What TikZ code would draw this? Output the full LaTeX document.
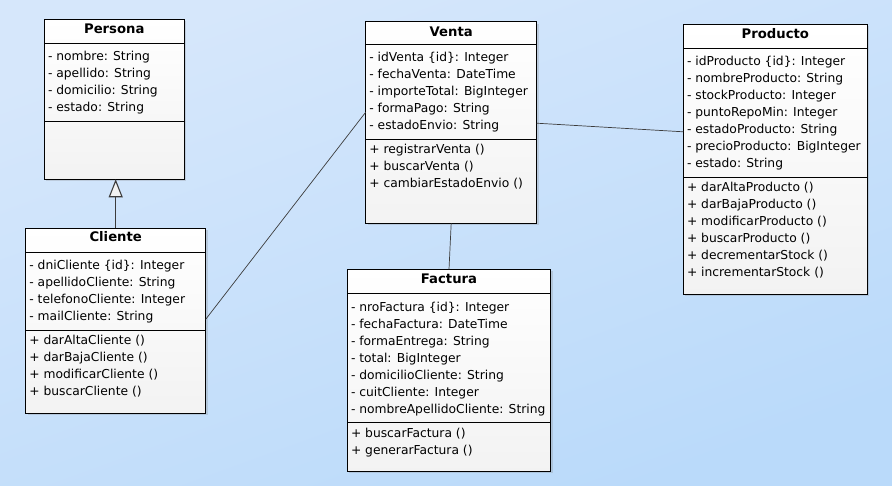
\documentclass[tikz,border=0pt]{standalone}
\usepackage{fontspec}
\setmainfont{DejaVu Sans}
\usetikzlibrary{calc,arrows.meta,shadows}

\definecolor{bgtop}{RGB}{214,231,251}
\definecolor{bgbottom}{RGB}{186,218,250}
\definecolor{linegray}{RGB}{60,60,60}

% member lines of a class: node name, part, offset of first baseline, list
\newcommand{\memberlist}[4]{%
  \foreach \txt [count=\i] in {#4}
    \node[member] (#1-#2\i) at ($(#1.north west)+(3.5,#3-17+17*\i)$) {\txt};}

\begin{document}
\begin{tikzpicture}[x=1pt, y=-1pt,
    classbox/.style={rectangle, draw=black, line width=1pt, inner sep=0pt, outer sep=0pt,
      top color=white, bottom color=gray!10,
      drop shadow={opacity=0.25, shadow xshift=2pt, shadow yshift=-2pt}},
    classname/.style={anchor=base, inner sep=0pt, font=\fontsize{13.2}{15}\selectfont\bfseries},
    member/.style={anchor=base west, inner sep=0pt, font=\fontsize{12.3}{14}\selectfont},
    sepline/.style={line width=0.8pt},
    assoc/.style={draw=linegray, line width=0.7pt},
    gen/.style={draw=linegray, line width=1.1pt,
      -{Triangle[open, length=18pt, width=14pt, fill=gray!10]}}]

    \fill[top color=bgtop, bottom color=bgbottom, shading angle=20] (0,0) rectangle (892,485);

    % Persona
    \node[classbox, minimum width=140pt, minimum height=160pt] (persona) at (114.3,99.3) {};
    \node[classname] (persona-t) at ($(persona.north)+(0,14)$) {Persona};
    \draw[sepline] (persona.west |- 0,43.3) -- (persona.east |- 0,43.3);
    \draw[sepline] (persona.west |- 0,121.3) -- (persona.east |- 0,121.3);
    \memberlist{persona}{a}{41.2}{- nombre: String, - apellido: String, - domicilio: String, - estado: String}

    % Cliente
    \node[classbox, minimum width=180pt, minimum height=185pt] (cliente) at (115.7,320.8) {};
    \node[classname] (cliente-t) at ($(cliente.north)+(0,13.4)$) {Cliente};
    \draw[sepline] (cliente.west |- 0,252.7) -- (cliente.east |- 0,252.7);
    \draw[sepline] (cliente.west |- 0,330) -- (cliente.east |- 0,330);
    \memberlist{cliente}{a}{40.7}{- dniCliente \{id\}: Integer, - apellidoCliente: String,
      - telefonoCliente: Integer, - mailCliente: String}
    \memberlist{cliente}{o}{115.7}{+ darAltaCliente (), + darBajaCliente (),
      + modificarCliente (), + buscarCliente ()}

    % Venta
    \node[classbox, minimum width=171pt, minimum height=201.6pt] (venta) at (451.2,122.5) {};
    \node[classname] (venta-t) at ($(venta.north)+(0,14.3)$) {Venta};
    \draw[sepline] (venta.west |- 0,44) -- (venta.east |- 0,44);
    \draw[sepline] (venta.west |- 0,139.3) -- (venta.east |- 0,139.3);
    \memberlist{venta}{a}{40}{- idVenta \{id\}: Integer, - fechaVenta: DateTime,
      - importeTotal: BigInteger, - formaPago: String, - estadoEnvio: String}
    \memberlist{venta}{o}{131.6}{+ registrarVenta (), + buscarVenta (), + cambiarEstadoEnvio ()}

    % Producto
    \node[classbox, minimum width=184pt, minimum height=270pt] (producto) at (775.3,159.3) {};
    \node[classname] (producto-t) at ($(producto.north)+(0,14)$) {Producto};
    \draw[sepline] (producto.west |- 0,48.3) -- (producto.east |- 0,48.3);
    \draw[sepline] (producto.west |- 0,177.7) -- (producto.east |- 0,177.7);
    \memberlist{producto}{a}{41.4}{- idProducto \{id\}: Integer, - nombreProducto: String,
      - stockProducto: Integer, - puntoRepoMin: Integer, - estadoProducto: String,
      - precioProducto: BigInteger, - estado: String}
    \memberlist{producto}{o}{167.4}{+ darAltaProducto (), + darBajaProducto (),
      + modificarProducto (), + buscarProducto (), + decrementarStock (), + incrementarStock ()}

    % Factura
    \node[classbox, minimum width=203.4pt, minimum height=202pt] (factura) at (449,370.3) {};
    \node[classname] (factura-t) at ($(factura.north)+(0,14)$) {Factura};
    \draw[sepline] (factura.west |- 0,293.3) -- (factura.east |- 0,293.3);
    \draw[sepline] (factura.west |- 0,422.7) -- (factura.east |- 0,422.7);
    \memberlist{factura}{a}{41.7}{- nroFactura \{id\}: Integer, - fechaFactura: DateTime,
      - formaEntrega: String, - total: BigInteger, - domicilioCliente: String,
      - cuitCliente: Integer, - nombreApellidoCliente: String}
    \memberlist{factura}{o}{168}{+ buscarFactura (), + generarFactura ()}

    % relations
    \draw[gen] (cliente.north) -- (cliente.north |- persona.south);
    \draw[assoc] ($(cliente.north east)+(0,91)$) -- ($(venta.north west)+(0,90.5)$);
    \draw[assoc] ($(venta.north east)+(0,101.5)$) -- ($(producto.north west)+(0,107.5)$);
    \draw[assoc] (venta.south) -- (factura.north);
\end{tikzpicture}
\end{document}
